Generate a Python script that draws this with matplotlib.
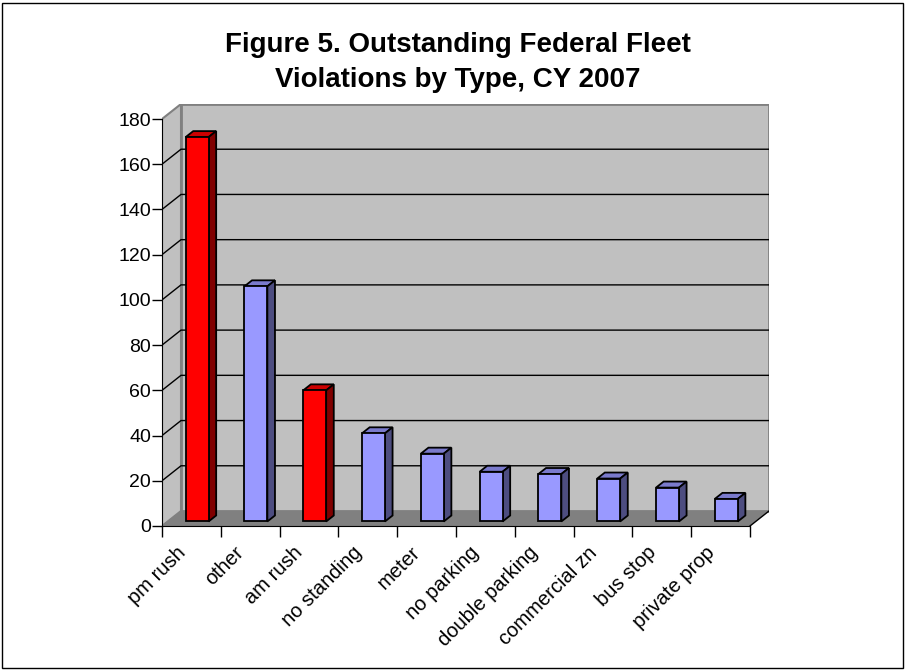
import matplotlib
matplotlib.use("Agg")
import matplotlib.pyplot as plt
from matplotlib.patches import Polygon, Rectangle
from matplotlib.transforms import ScaledTranslation

plt.rcParams['font.family'] = ['Liberation Sans', 'DejaVu Sans']

categories = ["pm rush", "other", "am rush", "no standing", "meter", "no parking",
              "double parking", "commercial zn", "bus stop", "private prop"]
values = [170, 104, 58, 39, 30, 22, 21, 19, 15, 10]
highlight = [True, False, True, False, False, False, False, False, False, False]
yticks = [0, 20, 40, 60, 80, 100, 120, 140, 160, 180]

# oblique depth offset (category units, value units)
DX = 19 / 58.8
DY = 15 / 2.2611
n = len(categories)
x0, x1 = -0.5, n - 0.5
ymax = 180

fig = plt.figure(figsize=(9.06, 6.70), dpi=100)
W, H = 906, 670
ax = fig.add_axes([162 / W, 144 / H, (769 - 162) / W, (566 - 144) / H])
ax.set_xlim(x0, x1 + DX)
ax.set_ylim(0, ymax + DY)
ax.set_facecolor('none')

wall = '#C0C0C0'
edge = '#808080'
# left wall
ax.add_patch(Polygon([(x0, 0), (x0 + DX, DY), (x0 + DX, ymax + DY), (x0, ymax)],
                     closed=True, fc=wall, ec=edge, lw=1.5, zorder=1))
# back wall
ax.add_patch(Polygon([(x0 + DX, DY), (x1 + DX, DY), (x1 + DX, ymax + DY), (x0 + DX, ymax + DY)],
                     closed=True, fc=wall, ec=edge, lw=2, zorder=1))
# gridlines
for v in yticks[1:-1]:
    ax.plot([x0, x0 + DX, x1 + DX], [v, v + DY, v + DY], color='black', lw=1, zorder=2)
# floor
ax.add_patch(Polygon([(x0, 0), (x1, 0), (x1 + DX, DY), (x0 + DX, DY)],
                     closed=True, fc='#808080', ec='none', zorder=2))
ax.plot([x1, x1 + DX], [0, DY], color='black', lw=1, zorder=3)

# bars
bw = 0.39
f0, f1 = 0.3, 0.7
bx = [i + f0 * DX for i in range(n)]
bottom = f0 * DY
dd, ddy = (f1 - f0) * DX, (f1 - f0) * DY
front_cols = ['#FF0000' if h else '#9999FF' for h in highlight]
side_cols = ['#800000' if h else '#4D4D80' for h in highlight]
top_cols = ['#CC0000' if h else '#7A7ACC' for h in highlight]
ax.bar(bx, values, width=bw, bottom=bottom, color=front_cols, edgecolor='black',
       linewidth=1.3, zorder=5)
for i in range(n):
    l = bx[i] - bw / 2
    r = bx[i] + bw / 2
    t = values[i] + bottom
    ax.add_patch(Polygon([(l, t), (r, t), (r + dd, t + ddy), (l + dd, t + ddy)],
                         closed=True, fc=top_cols[i], ec='black', lw=1.3, zorder=4))
    ax.add_patch(Polygon([(r, bottom), (r + dd, bottom + ddy), (r + dd, t + ddy), (r, t)],
                         closed=True, fc=side_cols[i], ec='black', lw=1.3, zorder=4))

# axes
for s in ['top', 'right']:
    ax.spines[s].set_visible(False)
ax.spines['left'].set_bounds(0, ymax)
ax.spines['bottom'].set_bounds(x0, x1)
ax.spines['left'].set_zorder(6)
ax.spines['bottom'].set_zorder(6)
ax.set_yticks(yticks)
ax.tick_params(axis='y', direction='out', length=7, width=1, labelsize=14, pad=1)
ax.set_xticks(range(n))
ax.set_xticklabels(categories, rotation=45, ha='right', va='center', rotation_mode='anchor')
ax.set_xticks([x0 + k for k in range(n + 1)], minor=True)
ax.tick_params(axis='x', which='major', length=0, labelsize=14.5, pad=17)
ax.tick_params(axis='x', which='minor', direction='out', length=8, width=1)
for lab in ax.get_xticklabels():
    lab.set_transform(lab.get_transform() + ScaledTranslation(-9 / 100, 0, fig.dpi_scale_trans))

fig.text(458 / W, 1 - 52 / H, "Figure 5. Outstanding Federal Fleet", ha='center', va='baseline',
         fontsize=20, fontweight='bold')
fig.text(458 / W, 1 - 87 / H, "Violations by Type, CY 2007", ha='center', va='baseline',
         fontsize=20, fontweight='bold')

fig.patches.append(Rectangle((2 / W, 2 / H), 901 / W, 665 / H, transform=fig.transFigure,
                             fill=False, ec='black', lw=1))

fig.savefig('out.png', dpi=100)
